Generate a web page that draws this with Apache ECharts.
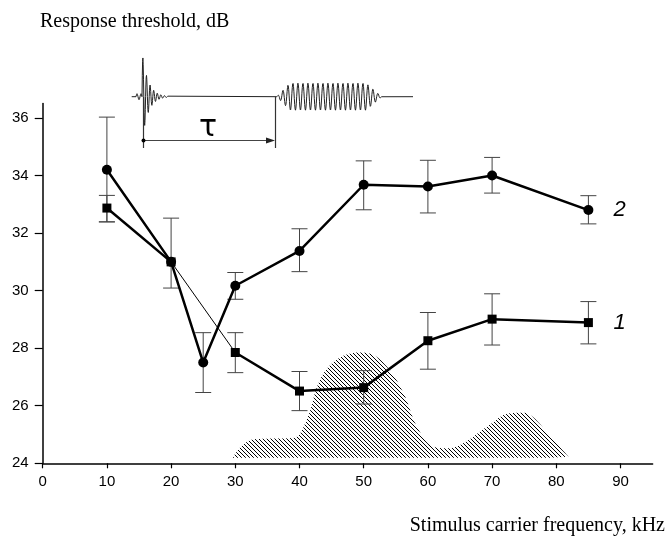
<!DOCTYPE html>
<html>
<head>
<meta charset="utf-8">
<script src="https://cdn.jsdelivr.net/npm/echarts@6/dist/echarts.min.js"></script>
<style>
  html, body { margin: 0; padding: 0; background: #fff; }
  #chart { width: 667px; height: 544px; }
</style>
</head>
<body>
<div id="chart"></div>
<script>
  // tick values
  const xTicks = [0, 10, 20, 30, 40, 50, 60, 70, 80, 90]
  const yTicks = [24, 26, 28, 30, 32, 34, 36]

  // curve 2 (circles)
  const circX = [10, 20, 25, 30, 40, 50, 60, 70, 85]
  const circY = [34.2, 31.0, 27.5, 30.17, 31.38, 33.68, 33.62, 34.0, 32.8]
  const circLo = [32.39, 30.09, 26.46, 29.7, 30.66, 32.81, 32.7, 33.39, 32.32]
  const circHi = [36.03, 32.52, 28.54, 30.63, 32.15, 34.51, 34.53, 34.63, 33.3]

  // curve 1 (squares)
  const sqX = [10, 20, 30, 40, 50, 60, 70, 85]
  const sqY = [32.87, 31.0, 27.85, 26.51, 26.63, 28.26, 29.01, 28.89]
  const sqLo = [32.39, null, 27.15, 25.83, 26.06, 27.27, 28.11, 28.15]
  const sqHi = [33.31, null, 28.54, 27.19, 27.22, 29.24, 29.89, 29.62]

  // hatched spectrum outline
  const hatchX = [29.6, 31.0, 32.8, 36.0, 39.0, 41.1, 43.2, 45.8, 49.4, 51.0, 53.6, 56.2, 58.3, 60.8, 62.9, 65.5, 69.2, 72.8, 74.9, 76.4, 79.0, 81.9]
  const hatchY = [24.19, 24.6, 24.83, 24.86, 24.88, 25.5, 26.9, 27.6, 27.85, 27.81, 27.36, 26.43, 25.27, 24.58, 24.52, 24.7, 25.27, 25.74, 25.76, 25.6, 24.95, 24.23]
  const hatchBase = 24.19

  const zip = (xs, ys) => xs.map((x, i) => [x, ys[i]])
  const bars = (xs, lo, hi) => xs.map((x, i) => [x, lo[i], hi[i]]).filter(d => d[1] != null)

  function hatchPattern() {
    const c = document.createElement('canvas')
    c.width = 4
    c.height = 4
    const ctx = c.getContext('2d')
    ctx.strokeStyle = '#000'
    ctx.lineWidth = 1
    ctx.beginPath()
    ctx.moveTo(0, 0); ctx.lineTo(4, 4)
    ctx.moveTo(-2, 2); ctx.lineTo(2, 6)
    ctx.moveTo(2, -2); ctx.lineTo(6, 2)
    ctx.stroke()
    return c
  }

  // inset waveform: click, pause, tone burst
  function wavePoints() {
    const base = 96.7
    const pts = [[131.7, base], [136, base]]
    for (let x = 136; x < 142; x += 0.5) {
      pts.push([x, base - 3 * Math.sin((x - 136) / 2 * Math.PI)])
    }
    for (let x = 142; x <= 168; x += 0.3) {
      pts.push([x, base - 45 * Math.exp(-(x - 142) / 6) * Math.sin((x - 142) / 3.6 * 2 * Math.PI)])
    }
    pts.push([276.7, base])
    for (let x = 276.7; x <= 381.7; x += 0.4) {
      let env = 1
      if (x < 290) env = (x - 276.7) / 13.3
      if (x > 366) env = (381.7 - x) / 15.7
      pts.push([x, base - 13.5 * env * Math.sin((x - 276.7) / 5 * 2 * Math.PI)])
    }
    pts.push([413, base])
    return pts
  }

  const errStyle = { stroke: '#444', lineWidth: 1 }
  function renderErr(params, api) {
    const x = api.value(0)
    const lo = api.coord([x, api.value(1)])
    const hi = api.coord([x, api.value(2)])
    const w = 8
    return {
      type: 'group',
      children: [
        { type: 'line', shape: { x1: lo[0], y1: lo[1], x2: hi[0], y2: hi[1] }, style: errStyle },
        { type: 'line', shape: { x1: lo[0] - w, y1: lo[1], x2: lo[0] + w, y2: lo[1] }, style: errStyle },
        { type: 'line', shape: { x1: hi[0] - w, y1: hi[1], x2: hi[0] + w, y2: hi[1] }, style: errStyle }
      ]
    }
  }

  const chart = echarts.init(document.getElementById('chart'), null, { renderer: 'canvas' })
  const thick = { color: '#000', width: 2.5 }
  const labelFont = { fontFamily: 'Liberation Sans, Arial, sans-serif', fontSize: 15, color: '#000' }

  chart.setOption({
    animation: false,
    backgroundColor: '#fff',
    grid: { left: 42.7, right: 14.4, top: 103.6, bottom: 80.7 },
    xAxis: {
      type: 'value',
      min: 0,
      max: 95,
      interval: 10,
      splitLine: { show: false },
      axisLine: { lineStyle: { color: '#000', width: 1.5 } },
      axisTick: { length: 5, lineStyle: { color: '#000', width: 1.2 }, customValues: xTicks },
      axisLabel: Object.assign({ margin: 11, customValues: xTicks }, labelFont)
    },
    yAxis: {
      type: 'value',
      min: 24,
      max: 36.5,
      interval: 2,
      splitLine: { show: false },
      axisLine: { show: true, lineStyle: { color: '#000', width: 1.5 } },
      axisTick: { show: true, length: 8, lineStyle: { color: '#000', width: 1.2 }, customValues: yTicks },
      axisLabel: Object.assign({ margin: 14, customValues: yTicks }, labelFont)
    },
    graphic: [
      { type: 'text', left: 40, top: 12, style: { text: 'Response threshold, dB', font: '20px "Liberation Serif", "Times New Roman", serif', fill: '#000' } },
      { type: 'text', right: 2, top: 516, style: { text: 'Stimulus carrier frequency, kHz', font: '20px "Liberation Serif", "Times New Roman", serif', fill: '#000' } },
      { type: 'polyline', shape: { points: wavePoints() }, style: { stroke: '#222', lineWidth: 1, fill: null } },
      { type: 'line', shape: { x1: 143.5, y1: 96.7, x2: 143.5, y2: 148 }, style: { stroke: '#333', lineWidth: 1.2 } },
      { type: 'line', shape: { x1: 275.5, y1: 96.7, x2: 275.5, y2: 148 }, style: { stroke: '#333', lineWidth: 1.2 } },
      { type: 'line', shape: { x1: 143.5, y1: 140.5, x2: 268, y2: 140.5 }, style: { stroke: '#444', lineWidth: 1.2 } },
      { type: 'polygon', shape: { points: [[275, 140.5], [266, 137.5], [266, 143.5]] }, style: { fill: '#222' } },
      { type: 'circle', shape: { cx: 143.5, cy: 140.5, r: 2 }, style: { fill: '#000' } },
      { type: 'text', left: 199, top: 113, style: { text: 'τ', font: '30px "DejaVu Sans", sans-serif', fill: '#000' } }
    ],
    series: [
      {
        name: 'spectrum',
        type: 'line',
        data: zip(hatchX, hatchY),
        smooth: 0.4,
        showSymbol: false,
        lineStyle: { width: 0 },
        areaStyle: { origin: hatchBase, color: { image: hatchPattern(), repeat: 'repeat' }, opacity: 1 },
        z: 1
      },
      {
        name: 'err2',
        type: 'custom',
        renderItem: renderErr,
        encode: { x: 0, y: [1, 2] },
        data: bars(circX, circLo, circHi),
        z: 2
      },
      {
        name: 'err1',
        type: 'custom',
        renderItem: renderErr,
        encode: { x: 0, y: [1, 2] },
        data: bars(sqX, sqLo, sqHi),
        z: 2
      },
      {
        name: '2',
        type: 'line',
        data: zip(circX, circY),
        symbol: 'circle',
        symbolSize: 10,
        itemStyle: { color: '#000' },
        lineStyle: thick,
        endLabel: { show: true, formatter: '2', distance: 25, fontFamily: 'Liberation Sans, Arial, sans-serif', fontStyle: 'italic', fontSize: 22, color: '#000' },
        z: 3
      },
      {
        name: '1a',
        type: 'line',
        data: zip(sqX, sqY).slice(0, 2),
        symbol: 'rect',
        symbolSize: 9,
        itemStyle: { color: '#000' },
        lineStyle: thick,
        z: 3
      },
      {
        name: '1 thin',
        type: 'line',
        data: zip(sqX, sqY).slice(1, 3),
        showSymbol: false,
        lineStyle: { color: '#000', width: 1 },
        z: 3
      },
      {
        name: '1',
        type: 'line',
        data: zip(sqX, sqY).slice(2),
        symbol: 'rect',
        symbolSize: 9,
        itemStyle: { color: '#000' },
        lineStyle: thick,
        endLabel: { show: true, formatter: '1', distance: 25, fontFamily: 'Liberation Sans, Arial, sans-serif', fontStyle: 'italic', fontSize: 22, color: '#000' },
        z: 3
      }
    ]
  })
</script>
</body>
</html>
